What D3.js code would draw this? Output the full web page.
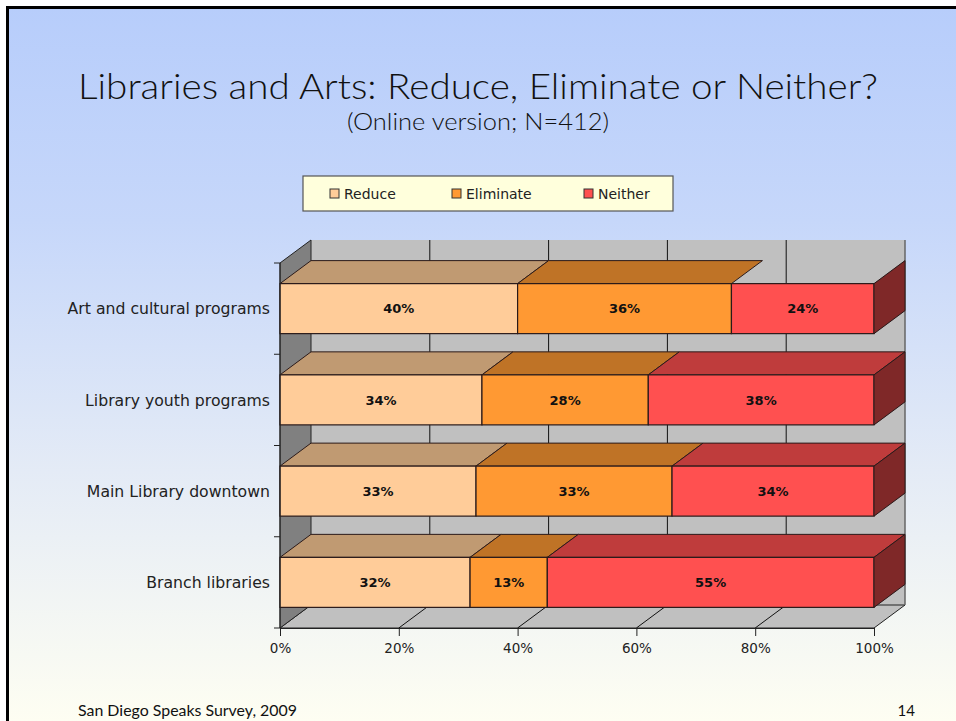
<!DOCTYPE html>
<html>
<head>
<meta charset="utf-8">
<script src="https://cdn.jsdelivr.net/npm/d3@7"></script>
<style>
  html, body { margin: 0; padding: 0; background: #fff; }
  svg { display: block; }
</style>
</head>
<body>
<svg id="chart" width="956" height="721"></svg>
<script>
// Survey answers per program, in percent
const categories = ["Art and cultural programs", "Library youth programs", "Main Library downtown", "Branch libraries"];
const seriesNames = ["Reduce", "Eliminate", "Neither"];
const reduceValues = [40, 34, 33, 32];
const eliminateValues = [36, 28, 33, 13];
const neitherValues = [24, 38, 34, 55];
const tickValues = [0, 20, 40, 60, 80, 100];
const tickLabels = ["0%", "20%", "40%", "60%", "80%", "100%"];

const frontColors = ["#ffcc99", "#ff9933", "#ff5050"];
const topColors = ["#c09a72", "#bf7326", "#bf3c3c"];
const sideColor = "#7f2828";

const svg = d3.select("#chart");
const W = 956, H = 721;

// Slide background
const defs = svg.append("defs");
const grad = defs.append("linearGradient").attr("id", "bg").attr("x1", 0).attr("y1", 0).attr("x2", 0).attr("y2", 1);
grad.append("stop").attr("offset", "0%").attr("stop-color", "#b7cdfb");
grad.append("stop").attr("offset", "30%").attr("stop-color", "#c6d7fa");
grad.append("stop").attr("offset", "65%").attr("stop-color", "#e4ebf6");
grad.append("stop").attr("offset", "100%").attr("stop-color", "#fefef2");
svg.append("rect").attr("width", W).attr("height", H).attr("fill", "#fff");
svg.append("rect").attr("x", 7).attr("y", 7).attr("width", W - 7).attr("height", H - 7).attr("fill", "url(#bg)");
// frame lines on top and left
svg.append("rect").attr("x", 6).attr("y", 6).attr("width", W - 6).attr("height", 3).attr("fill", "#000");
svg.append("rect").attr("x", 6).attr("y", 6).attr("width", 3).attr("height", H - 6).attr("fill", "#000");

// Titles
svg.append("text")
  .attr("x", 478).attr("y", 99)
  .attr("text-anchor", "middle")
  .attr("font-family", "Lato, 'Open Sans', sans-serif")
  .attr("font-weight", 300)
  .attr("font-size", 35)
  .attr("textLength", 800).attr("lengthAdjust", "spacingAndGlyphs")
  .attr("fill", "#111")
  .text("Libraries and Arts: Reduce, Eliminate or Neither?");
svg.append("text")
  .attr("x", 478).attr("y", 130)
  .attr("text-anchor", "middle")
  .attr("font-family", "Lato, 'Open Sans', sans-serif")
  .attr("font-weight", 300)
  .attr("font-size", 23)
  .attr("textLength", 262).attr("lengthAdjust", "spacingAndGlyphs")
  .attr("fill", "#111")
  .text("(Online version; N=412)");

// Scales
const x = d3.scaleLinear().domain([0, 100]).range([280, 874]);
const y = d3.scaleBand().domain(categories).range([263, 628]).paddingInner(0.452).paddingOuter(0.226);
const dx = 31, dy = -23;
const x0 = x(0), x1 = x(100), yTop = 263, yBot = 628;

const g = svg.append("g");
const poly = pts => pts.map(p => p.join(",")).join(" ");

// Back wall, left wall and floor
g.append("polygon")
  .attr("points", poly([[x0 + dx, yTop + dy], [x1 + dx, yTop + dy], [x1 + dx, yBot + dy], [x0 + dx, yBot + dy]]))
  .attr("fill", "#c0c0c0");
g.append("polygon")
  .attr("points", poly([[x0, yBot], [x1, yBot], [x1 + dx, yBot + dy], [x0 + dx, yBot + dy]]))
  .attr("fill", "#c0c0c0").attr("stroke", "#222").attr("stroke-width", 1);
g.append("polygon")
  .attr("points", poly([[x0, yTop], [x0 + dx, yTop + dy], [x0 + dx, yBot + dy], [x0, yBot]]))
  .attr("fill", "#808080").attr("stroke", "#222").attr("stroke-width", 1);
g.append("line")
  .attr("x1", x1 + dx).attr("x2", x1 + dx).attr("y1", yTop + dy).attr("y2", yBot + dy)
  .attr("stroke", "#666").attr("stroke-width", 1.5);

// Gridlines on the back wall and floor
tickValues.slice(1, -1).forEach(v => {
  g.append("line")
    .attr("x1", x(v) + dx).attr("x2", x(v) + dx).attr("y1", yTop + dy).attr("y2", yBot + dy)
    .attr("stroke", "#111").attr("stroke-width", 1);
  g.append("line")
    .attr("x1", x(v)).attr("y1", yBot).attr("x2", x(v) + dx).attr("y2", yBot + dy)
    .attr("stroke", "#111").attr("stroke-width", 1);
});

// Stacked 3D bars
const rows = categories.map((c, i) => {
  const vals = [reduceValues[i], eliminateValues[i], neitherValues[i]];
  let acc = 0;
  return vals.map((v, k) => {
    const seg = { cat: c, row: i, k, v, start: acc, end: acc + v };
    acc += v;
    return seg;
  });
});

rows.forEach((segs, i) => {
  const by = y(categories[i]);
  const bh = y.bandwidth();
  const rowG = g.append("g");
  segs.forEach(s => {
    const a = x(s.start), b = x(s.end);
    // the top row's last segment is drawn without its top face
    if (!(s.row === 0 && s.k === segs.length - 1)) {
      rowG.append("polygon")
        .attr("points", poly([[a, by], [b, by], [b + dx, by + dy], [a + dx, by + dy]]))
        .attr("fill", topColors[s.k]).attr("stroke", "#2a1a1a").attr("stroke-width", 1);
    }
    rowG.append("rect")
      .attr("x", a).attr("y", by).attr("width", b - a).attr("height", bh)
      .attr("fill", frontColors[s.k]).attr("stroke", "#2a1a1a").attr("stroke-width", 1.2);
    rowG.append("text")
      .attr("x", (a + b) / 2).attr("y", by + bh / 2)
      .attr("dy", "0.36em")
      .attr("text-anchor", "middle")
      .attr("font-family", "'DejaVu Sans', Verdana, sans-serif")
      .attr("font-weight", "bold")
      .attr("font-size", 13)
      .attr("fill", "#111")
      .text(s.v + "%");
  });
  const last = segs[segs.length - 1];
  const e = x(last.end);
  rowG.append("polygon")
    .attr("points", poly([[e, by], [e + dx, by + dy], [e + dx, by + bh + dy], [e, by + bh]]))
    .attr("fill", sideColor).attr("stroke", "#2a1a1a").attr("stroke-width", 1);
});

// Value axis
const xAxis = d3.axisBottom(x).tickValues(tickValues).tickFormat((d, i) => tickLabels[i]).tickSize(8).tickSizeOuter(0);
const xa = svg.append("g").attr("transform", `translate(0,${yBot})`).call(xAxis);
xa.select(".domain").attr("stroke", "#222");
xa.selectAll(".tick line").attr("stroke", "#222");
xa.selectAll(".tick text")
  .attr("y", 15)
  .attr("font-family", "'DejaVu Sans', Verdana, sans-serif")
  .attr("font-size", 13.5)
  .attr("fill", "#222");

// Category axis
const step = y.step();
const edgeOff = step * y.paddingInner() / 2;
const ca = svg.append("g");
ca.append("line").attr("x1", x0).attr("x2", x0).attr("y1", yTop).attr("y2", yBot).attr("stroke", "#222");
categories.forEach(c => {
  ca.append("line").attr("x1", x0 - 6).attr("x2", x0)
    .attr("y1", y(c) - edgeOff).attr("y2", y(c) - edgeOff).attr("stroke", "#222");
});
ca.append("line").attr("x1", x0 - 6).attr("x2", x0).attr("y1", yBot).attr("y2", yBot).attr("stroke", "#222");
categories.forEach(c => {
  ca.append("text")
    .attr("x", 270).attr("y", y(c) + y.bandwidth() / 2)
    .attr("dy", "0.36em")
    .attr("text-anchor", "end")
    .attr("font-family", "'DejaVu Sans', Verdana, sans-serif")
    .attr("font-size", 15.7)
    .attr("fill", "#222")
    .text(c);
});

// Legend
const lg = svg.append("g");
lg.append("rect").attr("x", 303).attr("y", 176).attr("width", 370).attr("height", 35)
  .attr("fill", "#ffffdc").attr("stroke", "#555").attr("stroke-width", 1.2);
const legendX = [330, 452, 584];
seriesNames.forEach((n, k) => {
  lg.append("rect").attr("x", legendX[k]).attr("y", 189).attr("width", 9).attr("height", 9)
    .attr("fill", frontColors[k]).attr("stroke", "#333").attr("stroke-width", 1);
  lg.append("text").attr("x", legendX[k] + 14).attr("y", 193.5).attr("dy", "0.36em")
    .attr("font-family", "'DejaVu Sans', Verdana, sans-serif")
    .attr("font-size", 14).attr("fill", "#222")
    .text(n);
});

// Footer
svg.append("text").attr("x", 78).attr("y", 716)
  .attr("font-family", "Lato, 'Open Sans', sans-serif").attr("font-size", 15)
  .attr("textLength", 219).attr("lengthAdjust", "spacingAndGlyphs")
  .attr("fill", "#111").text("San Diego Speaks Survey, 2009");
svg.append("text").attr("x", 915).attr("y", 716).attr("text-anchor", "end")
  .attr("font-family", "Lato, 'Open Sans', sans-serif").attr("font-size", 15)
  .attr("fill", "#111").text("14");
</script>
</body>
</html>
